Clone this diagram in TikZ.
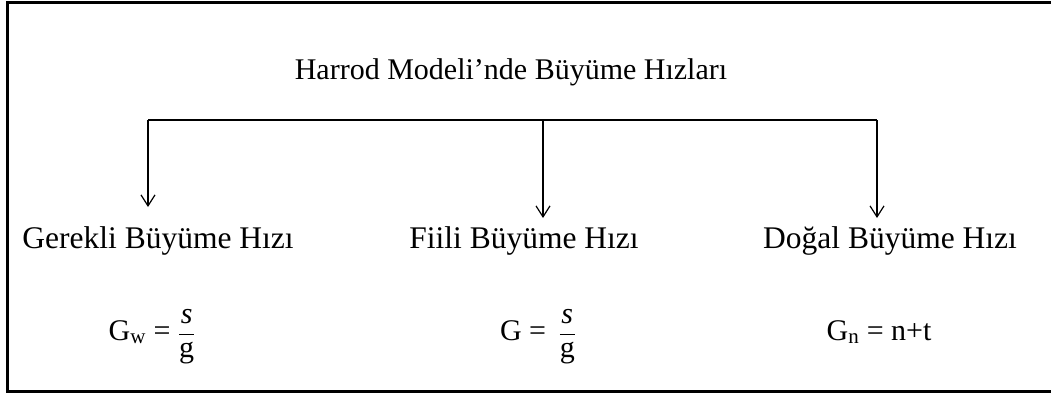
\documentclass[tikz,border=0pt]{standalone}
\usepackage{fontspec}
\setmainfont{Liberation Serif}
\usetikzlibrary{positioning,arrows.meta}
\tikzset{
  cerceve/.style={line width=3pt},
  ana/.style={line width=2.6pt},
  ok/.style={line width=1.2pt,-{Straight Barb[length=11pt,width=14pt,line width=1.2pt]}},
  baslik/.style={font=\fontsize{30}{36}\selectfont,anchor=base},
  etiket/.style={font=\fontsize{31.5}{38}\selectfont,anchor=base},
  formul/.style={font=\fontsize{30}{36}\selectfont,anchor=base},
  every picture/.style={x=1pt,y=-1pt}
}
\newcommand{\sgkesir}{$\displaystyle\frac{\textit{s}}{\textrm{g}}$}

\begin{document}
\begin{tikzpicture}
  \useasboundingbox (0,0) rectangle (1051,394);
  \draw[cerceve] (1051,2.5) -- (7,2.5) -- (7,391.5) -- (1051,391.5);
  \node[baslik] (hmb) at (511,79) {Harrod Modeli’nde Büyüme Hızları};
  \node[etiket] (gerekli) at (158,248) {Gerekli Büyüme Hızı};
  \node[etiket] (fiili) at (524,248) {Fiili Büyüme Hızı};
  \node[etiket] (dogal) at (890,248) {Doğal Büyüme Hızı};
  \node[formul] (fgw) at (152,340) {G\textsubscript{w} = \sgkesir};
  \node[formul] (fg) at (538,340) {G = \,\sgkesir};
  \node[formul] (fgn) at (879,340) {G\textsubscript{n} = n+t};
  % dallanan cizgi
  \coordinate (sol) at (148,120); \coordinate (orta) at (543,120); \coordinate (sag) at (877,120);
  \coordinate (ucsol) at (148,207); \coordinate (ucorta) at (543,218); \coordinate (ucsag) at (877,218);
  \draw[ana] (sol) -- (sag);
  \draw[ok] (sol) -- (ucsol);
  \draw[ok] (orta) -- (ucorta);
  \draw[ok] (sag) -- (ucsag);
\end{tikzpicture}
\end{document}
